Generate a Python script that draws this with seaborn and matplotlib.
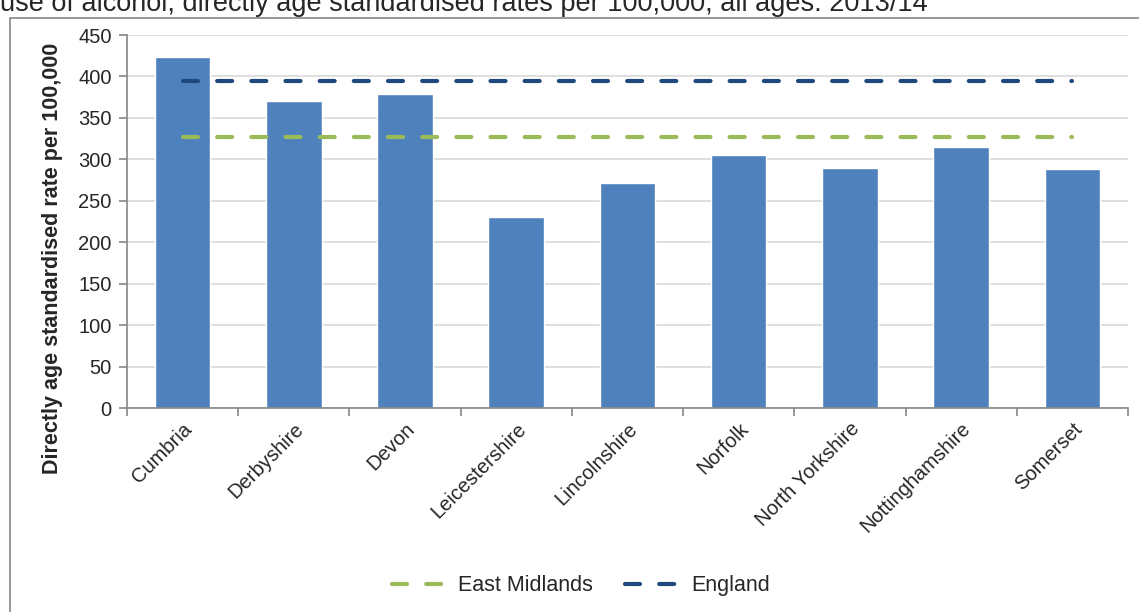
import numpy as np
import matplotlib
matplotlib.use("Agg")
import matplotlib.pyplot as plt
import seaborn as sns
from matplotlib.lines import Line2D
from matplotlib.patches import Rectangle

counties = ["Cumbria", "Derbyshire", "Devon", "Leicestershire", "Lincolnshire",
            "Norfolk", "North Yorkshire", "Nottinghamshire", "Somerset"]
rates = [423, 370, 379, 230, 271, 305, 289, 315, 288]
east_midlands = 327
england = 394

title = "use of alcohol, directly age standardised rates per 100,000, all ages: 2013/14"
ylabel = "Directly age standardised rate per 100,000"

sns.set_style("white")
plt.rcParams["font.family"] = ["Liberation Sans", "DejaVu Sans"]

fig = plt.figure(figsize=(11.39, 6.12), dpi=100)
ax = fig.add_axes([0.1115, 0.3333, 0.8788, 0.6095])

sns.barplot(x=counties, y=rates, color="#4F81BD", width=0.5, saturation=1,
            ax=ax, zorder=2)

pos = np.arange(len(counties))
dash_kw = dict(lw=3, dashes=(3.6, 4.6), dash_capstyle="round", zorder=3)
ax.plot(pos, [east_midlands] * len(pos), color="#9BBB59", **dash_kw)
ax.plot(pos, [england] * len(pos), color="#1F497D", **dash_kw)

ax.set_ylim(0, 450)
ax.set_xlim(-0.5, len(counties) - 0.5)
ax.set_yticks(np.arange(0, 451, 50))
ax.yaxis.grid(True, color="#D9D9D9", lw=1.2, zorder=0)
ax.set_axisbelow(True)

for side in ["top", "right"]:
    ax.spines[side].set_visible(False)
for side in ["left", "bottom"]:
    ax.spines[side].set_color("#868686")
    ax.spines[side].set_linewidth(1.2)

ax.tick_params(axis="y", length=6, width=1.2, color="#868686", labelsize=14.5,
               pad=5, direction="out", left=True)
ax.tick_params(axis="x", which="major", length=0, labelsize=14.5, pad=8)
ax.set_xticks(np.arange(-0.5, len(counties), 1), minor=True)
ax.tick_params(axis="x", which="minor", length=6, width=1.2, color="#868686",
               direction="out", bottom=True)
plt.setp(ax.get_xticklabels(), rotation=45, ha="right", rotation_mode="anchor")

ax.set_xlabel("")
ax.set_ylabel(ylabel, fontsize=15.5, fontweight="bold")
ax.yaxis.set_label_coords(-0.064, 0.40)

handles = [
    Line2D([], [], color="#9BBB59", lw=3, dashes=(3.6, 4.6), dash_capstyle="round"),
    Line2D([], [], color="#1F497D", lw=3, dashes=(3.6, 4.6), dash_capstyle="round"),
]
fig.legend(handles, ["East Midlands", "England"], loc="center",
           bbox_to_anchor=(0.51, 0.043), ncol=2, frameon=False, fontsize=15.5,
           handlelength=2.45, handletextpad=0.6, columnspacing=1.5)

fig.patches.append(Rectangle((10 / 1139, -0.01), 1.02, 1 - 18 / 612 + 0.01,
                             transform=fig.transFigure, fill=False,
                             edgecolor="#868686", lw=1.2))
fig.text(0.0, 1 - 11 / 612, title, fontsize=19.5, ha="left", va="baseline")

fig.savefig("out.png", dpi=100)
